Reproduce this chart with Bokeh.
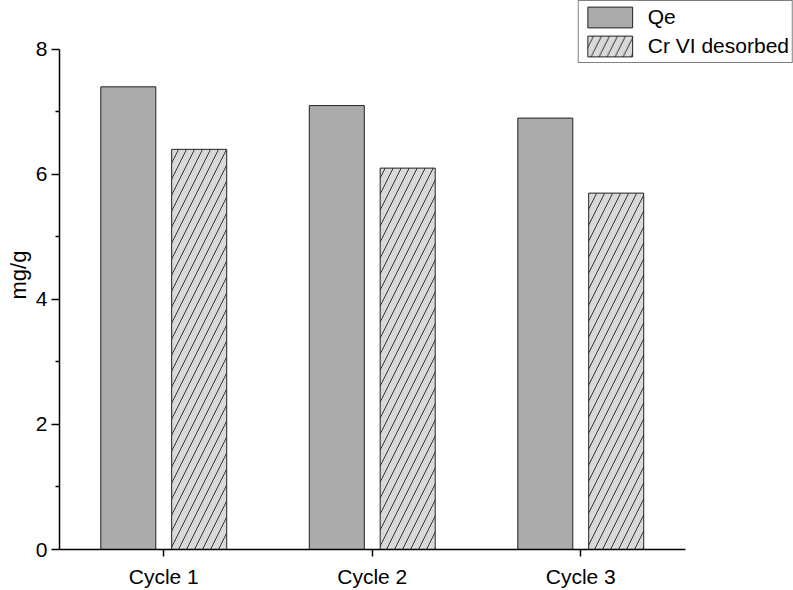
from bokeh.plotting import figure
from bokeh.models import ColumnDataSource, Range1d, FixedTicker, Legend, LegendItem
from bokeh.transform import dodge
from bokeh.embed import file_html
from bokeh.resources import INLINE

cycles = ["Cycle 1", "Cycle 2", "Cycle 3"]
qe = [7.4, 7.1, 6.9]
cr_desorbed = [6.4, 6.1, 5.7]
y_ticks = [0, 2, 4, 6, 8]
y_minor = [1, 3, 5, 7]

xpos = [i + 1 for i in range(len(cycles))]
src = ColumnDataSource(data=dict(x=xpos, cycle=cycles, qe=qe, cr=cr_desorbed))

FONT = "Liberation Sans"

W, H = 793, 590
LEFT, BOTTOM = 59, 39
frame_w = W - LEFT
frame_h = H - BOTTOM
px_per_cycle = 208.5
px_per_unit = (frame_h - 49) / y_ticks[-1]

p = figure(width=W, height=H, output_backend="svg", toolbar_location=None,
           x_range=Range1d(0.5, 0.5 + frame_w / px_per_cycle),
           y_range=Range1d(0, frame_h / px_per_unit),
           min_border_left=LEFT, min_border_right=0,
           min_border_top=0, min_border_bottom=BOTTOM)
p.outline_line_color = None
p.xgrid.grid_line_color = None
p.ygrid.grid_line_color = None
p.background_fill_color = "white"

r1 = p.vbar(x=dodge("x", -0.17), top="qe", width=0.264, source=src,
            fill_color="#ababab", line_color="#222222", line_width=1)
r2 = p.vbar(x=dodge("x", 0.17), top="cr", width=0.264, source=src,
            fill_color="#d9d9d9", line_color="#222222", line_width=1,
            hatch_pattern="/", hatch_color="#333333", hatch_scale=16, hatch_weight=1)

# axes
p.yaxis.ticker = FixedTicker(ticks=y_ticks, minor_ticks=y_minor)
p.yaxis.bounds = (y_ticks[0], y_ticks[-1])
p.xaxis.ticker = FixedTicker(ticks=xpos, minor_ticks=[])
p.xaxis.major_label_overrides = {x: c for x, c in zip(xpos, cycles)}
p.xaxis.bounds = (0.5, len(cycles) + 0.5)
p.yaxis.axis_label = "mg/g"
p.yaxis.axis_label_text_font = FONT
p.yaxis.axis_label_text_font_style = "normal"
p.yaxis.axis_label_text_font_size = "22px"
p.yaxis.axis_label_text_color = "black"
p.yaxis.axis_label_standoff = 2
for ax in (p.xaxis[0], p.yaxis[0]):
    ax.axis_line_width = 1.5
    ax.axis_line_color = "black"
    ax.major_tick_line_color = "black"
    ax.major_tick_line_width = 1.5
    ax.major_tick_in = 0
    ax.major_label_text_font = FONT
    ax.major_label_text_color = "black"
p.yaxis.major_tick_out = 8
p.yaxis.minor_tick_out = 4
p.yaxis.minor_tick_in = 0
p.yaxis.minor_tick_line_color = "black"
p.yaxis.minor_tick_line_width = 1.5
p.yaxis.major_label_text_font_size = "21px"
p.yaxis.major_label_standoff = 4
p.xaxis.major_tick_out = 7
p.xaxis.major_label_text_font_size = "21px"
p.xaxis.major_label_standoff = 8
p.xaxis.minor_tick_line_color = None

legend = Legend(items=[LegendItem(label="Qe", renderers=[r1]),
                       LegendItem(label="Cr VI desorbed", renderers=[r2])],
                location="top_right", orientation="vertical",
                glyph_width=56, glyph_height=26, spacing=3, padding=3, margin=0,
                label_standoff=10, label_text_font=FONT, label_text_font_size="21px",
                label_text_color="black", label_height=26,
                border_line_color="black", border_line_width=1,
                background_fill_color="white", background_fill_alpha=1)
p.add_layout(legend, "center")

open("out.html", "w").write(file_html(p, INLINE))
